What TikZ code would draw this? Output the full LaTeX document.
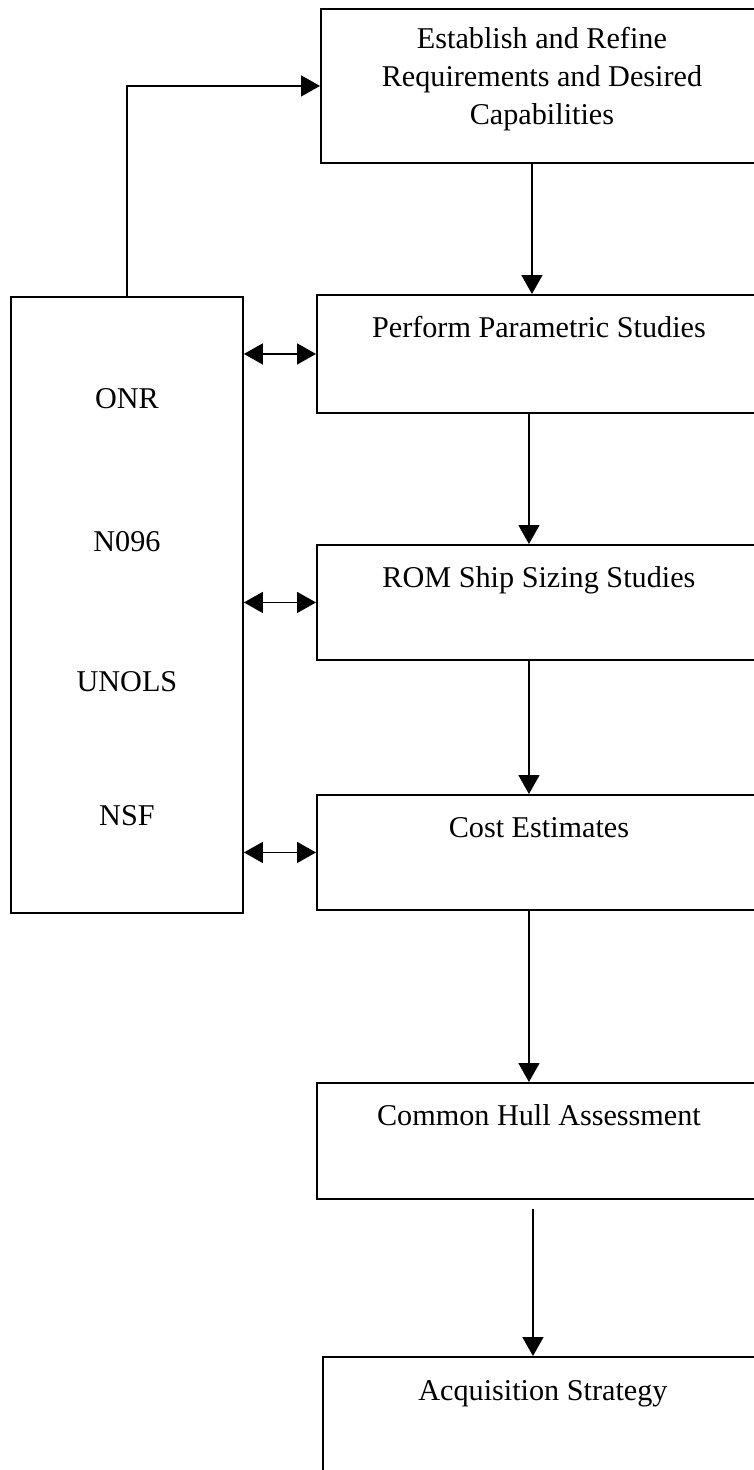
\documentclass[tikz,border=0pt]{standalone}
\usepackage{fontspec}
\setmainfont{Liberation Serif}
\usetikzlibrary{arrows.meta}
\newcommand{\boxtext}[4]{\parbox[c][#1][t]{#2}{\centering\vspace*{#3}\strut #4}}
\tikzset{
    stpbox/.style={draw,line width=1.9pt,inner sep=0pt,anchor=north west,font=\fontsize{30.2pt}{38pt}\selectfont},
    orgbox/.style={draw,line width=1.9pt,inner sep=0pt,anchor=north west,font=\fontsize{30.2pt}{38pt}\selectfont}
}
\begin{document}
\begin{tikzpicture}[x=1pt,y=-1pt,>={Triangle[length=19pt,width=21pt]}]
        \useasboundingbox (0,0) rectangle (754,1470);
        \clip (0,0) rectangle (754,1470);
        %---
        \node[stpbox] (req) at (320,8) {\boxtext{154pt}{442pt}{12.5pt}{Establish and Refine\\Requirements and Desired\\Capabilities}};
        \node[stpbox] (perf) at (316,294) {\boxtext{118pt}{444pt}{16pt}{Perform Parametric Studies}};
        \node[stpbox] (rom) at (316,544) {\boxtext{115pt}{444pt}{16pt}{ROM Ship Sizing Studies}};
        \node[stpbox] (cost) at (316,794) {\boxtext{115pt}{444pt}{16pt}{Cost Estimates}};
        \node[stpbox] (hull) at (316,1082) {\boxtext{116pt}{444pt}{16pt}{Common Hull Assessment}};
        \node[stpbox] (acq) at (322,1356) {\boxtext{118pt}{440pt}{17pt}{Acquisition Strategy}};

        \node[orgbox] (org) at (10,296) {\boxtext{616pt}{232pt}{85pt}{ONR\\[105pt]N096\\[102pt]UNOLS\\[96pt]NSF}};

        %---
        \begin{scope}[line width=1.6pt]
            \draw[->] (org.north) |- (req.west);
            \draw[->] ([xshift=-10pt]req.south) -- ([xshift=-10pt]req.south |- perf.north);
            \draw[->] ([xshift=-10pt]perf.south) -- ([xshift=-10pt]rom.north);
            \draw[->] ([xshift=-10pt]rom.south) -- ([xshift=-10pt]cost.north);
            \draw[->] ([xshift=-10pt]cost.south) -- ([xshift=-10pt]hull.north);
            \draw[->,shorten <=9pt] ([xshift=-6pt]hull.south) -- ([xshift=-10pt]acq.north);
            \foreach \b in {perf,rom,cost} {
                \draw[<->] (org.east |- \b.west) -- (\b.west);
            }
        \end{scope}
    \end{tikzpicture}
\end{document}
